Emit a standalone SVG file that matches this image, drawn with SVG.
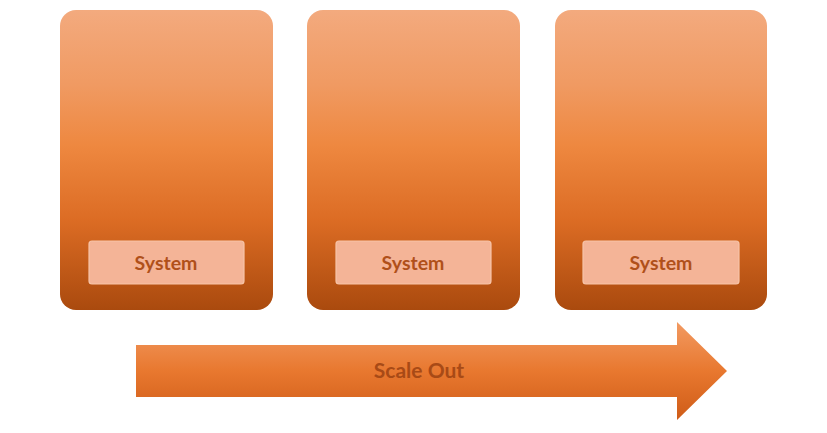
<svg xmlns="http://www.w3.org/2000/svg" width="827" height="433" viewBox="0 0 827 433">
<defs>
<linearGradient id="card" x1="0" y1="0" x2="0" y2="1">
<stop offset="0" stop-color="#f3aa7e"/>
<stop offset="0.25" stop-color="#f09a62"/>
<stop offset="0.45" stop-color="#ee8840"/>
<stop offset="0.7" stop-color="#dc6c24"/>
<stop offset="1" stop-color="#aa4a0e"/>
</linearGradient>
<linearGradient id="arr" x1="0" y1="0" x2="0" y2="1">
<stop offset="0" stop-color="#f29a62"/>
<stop offset="0.5" stop-color="#e8782f"/>
<stop offset="1" stop-color="#cf5c18"/>
</linearGradient>
<style>
.card{fill:url(#card)}
.lbl{fill:#f4b497;stroke:#f7c4a8;stroke-width:1.2}
.t{font-family:Lato,"Open Sans","Liberation Sans",sans-serif;font-weight:bold;font-size:19.5px;fill:#b0501a;text-anchor:middle}
</style>
</defs>
<rect width="827" height="433" fill="#ffffff"/>
<g id="system1">
<rect class="card" x="60" y="10" width="213" height="300" rx="16"/>
<rect class="lbl" x="89" y="241" width="155" height="43" rx="3"/>
<text class="t" x="166" y="270">System</text>
</g>
<g id="system2">
<rect class="card" x="307" y="10" width="213" height="300" rx="16"/>
<rect class="lbl" x="336" y="241" width="155" height="43" rx="3"/>
<text class="t" x="413" y="270">System</text>
</g>
<g id="system3">
<rect class="card" x="555" y="10" width="212" height="300" rx="16"/>
<rect class="lbl" x="583" y="241" width="156" height="43" rx="3"/>
<text class="t" x="661" y="270">System</text>
</g>
<g id="scaleout">
<path d="M136 345 H677 V322 L727 371 L677 420 V397 H136 Z" fill="url(#arr)"/>
<text class="t" x="419" y="378" style="fill:#a84a16;font-size:21px">Scale Out</text>
</g>
</svg>
